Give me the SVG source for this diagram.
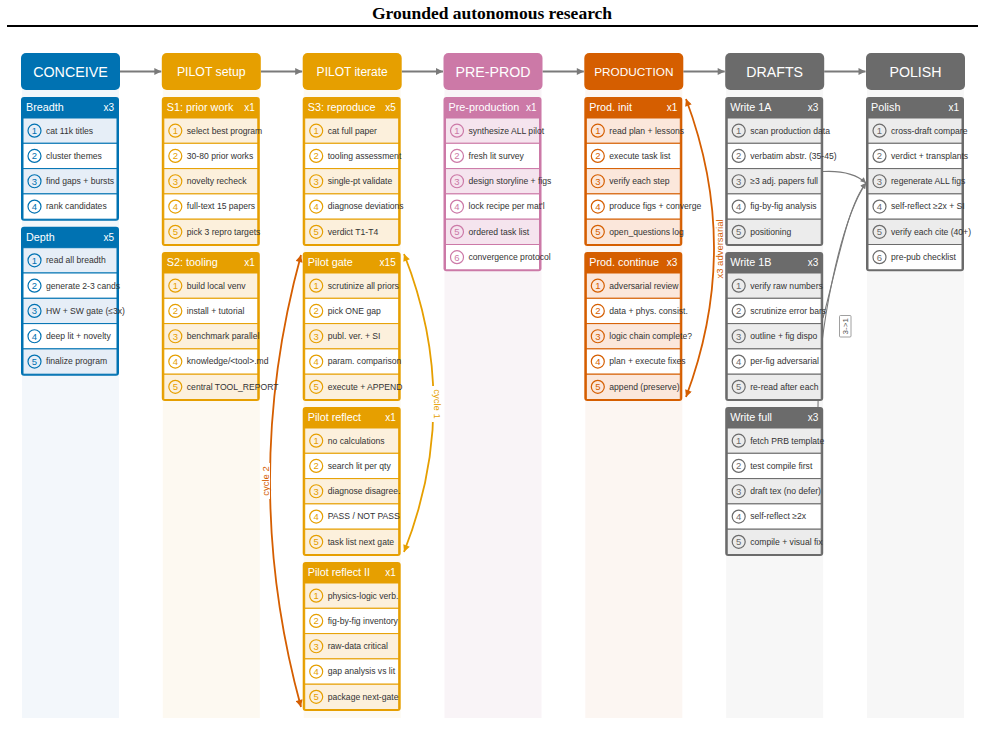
<svg xmlns="http://www.w3.org/2000/svg" width="985" height="743" viewBox="0 0 985 743">
<defs>
<style>
text{font-family:"Liberation Sans",Arial,sans-serif}
.title{font-family:"Liberation Serif","Times New Roman",serif;font-weight:bold;font-size:17.5px;fill:#000;text-anchor:middle}
.hd{fill:#fff;text-anchor:middle}
.ct{fill:#fff;font-size:10.8px}
.cx{fill:#fff;font-size:10px;text-anchor:end}
.t{fill:#333;font-size:8.6px}
.n{font-size:9.5px;text-anchor:middle}
.ro{fill:#fff;stroke-width:1}
circle{fill:none;stroke-width:1.2}
.blue .cb,.hb-blue{fill:#0072b2}.blue .ro{stroke:#0072b2}.blue .odd{fill:#e6eef7}.blue circle{stroke:#0072b2}.blue .n{fill:#0072b2}
.orange .cb,.hb-orange{fill:#e69f00}.orange .ro{stroke:#e69f00}.orange .odd{fill:#fcf0dc}.orange circle{stroke:#e69f00}.orange .n{fill:#e69f00}
.pink .cb,.hb-pink{fill:#cc79a7}.pink .ro{stroke:#cc79a7}.pink .odd{fill:#f5e4ee}.pink circle{stroke:#cc79a7}.pink .n{fill:#cc79a7}
.red .cb,.hb-red{fill:#d55e00}.red .ro{stroke:#d55e00}.red .odd{fill:#fbe7db}.red circle{stroke:#d55e00}.red .n{fill:#d55e00}
.gray .cb,.hb-gray{fill:#6b6b6b}.gray .ro{stroke:#6b6b6b}.gray .odd{fill:#ececec}.gray circle{stroke:#6b6b6b}.gray .n{fill:#6b6b6b}
.harrow{stroke:#7a7a7a;stroke-width:2;fill:none}
.cyc{fill:none;stroke-width:1.8}
.dline{fill:none;stroke:#7a7a7a;stroke-width:1.1}
.lbl{font-size:9.5px;text-anchor:middle}
</style>
<marker id="ag" viewBox="0 0 10 10" refX="10" refY="5" markerWidth="9" markerHeight="7" markerUnits="userSpaceOnUse" orient="auto"><path d="M0,0L10,5L0,10z" fill="#7a7a7a"/></marker>
<marker id="ag2" viewBox="0 0 10 10" refX="10" refY="5" markerWidth="7" markerHeight="5.5" markerUnits="userSpaceOnUse" orient="auto"><path d="M0,0L10,5L0,10z" fill="#7a7a7a"/></marker>
<marker id="ao" viewBox="0 0 10 10" refX="10" refY="5" markerWidth="9" markerHeight="7" markerUnits="userSpaceOnUse" orient="auto-start-reverse"><path d="M0,0L10,5L0,10z" fill="#e69f00"/></marker>
<marker id="ar" viewBox="0 0 10 10" refX="10" refY="5" markerWidth="9" markerHeight="7" markerUnits="userSpaceOnUse" orient="auto-start-reverse"><path d="M0,0L10,5L0,10z" fill="#d55e00"/></marker>
</defs>
<rect width="985" height="743" fill="#fff"/>
<text class="title" x="492" y="19">Grounded autonomous research</text>
<line x1="7" y1="26" x2="978" y2="26" stroke="#000" stroke-width="2"/>

<g id="strips">
<rect x="22" y="88" width="97" height="630" fill="#f3f7fb"/>
<rect x="162.8" y="88" width="97" height="630" fill="#fdf9f1"/>
<rect x="303.7" y="88" width="97" height="630" fill="#fdf9f1"/>
<rect x="444.5" y="88" width="97" height="630" fill="#f9f4f7"/>
<rect x="585.3" y="88" width="97" height="630" fill="#fcf6f2"/>
<rect x="726.2" y="88" width="97" height="630" fill="#f7f7f7"/>
<rect x="867" y="88" width="97" height="630" fill="#f7f7f7"/>
</g>

<g id="connectors">
<path class="harrow" d="M120,71.5H161.3" marker-end="url(#ag)"/>
<path class="harrow" d="M260.8,71.5H302.2" marker-end="url(#ag)"/>
<path class="harrow" d="M401.7,71.5H443" marker-end="url(#ag)"/>
<path class="harrow" d="M542.5,71.5H583.8" marker-end="url(#ag)"/>
<path class="harrow" d="M683.3,71.5H724.7" marker-end="url(#ag)"/>
<path class="harrow" d="M824.2,71.5H865.5" marker-end="url(#ag)"/>
<path class="cyc" stroke="#d55e00" d="M301,255Q239,481 301,707" marker-start="url(#ar)" marker-end="url(#ar)"/>
<path class="cyc" stroke="#e69f00" d="M404,254Q463,403 404,552" marker-start="url(#ao)" marker-end="url(#ao)"/>
<path class="cyc" stroke="#d55e00" d="M686,99Q742,248 686,397" marker-start="url(#ar)" marker-end="url(#ar)"/>
<path class="dline" d="M823,171.5Q852,170 866,183" marker-end="url(#ag2)"/>
<path class="dline" d="M823,318C838,262 848,205 866,183" marker-end="url(#ag2)"/>
<path class="dline" d="M818,407C818,330 840,222 866,183" marker-end="url(#ag2)"/>
<g id="labels">
<rect x="260.5" y="463" width="9.5" height="36" fill="#fff"/>
<text class="lbl" fill="#d55e00" transform="translate(265.5,481) rotate(-90)" y="3.3">cycle 2</text>
<rect x="431.5" y="386" width="11" height="36" fill="#fff"/>
<text class="lbl" fill="#e69f00" transform="translate(437,404) rotate(90)" y="3.3">cycle 1</text>
<rect x="715" y="218" width="9.5" height="62" fill="#fff"/>
<text class="lbl" fill="#d55e00" transform="translate(719.7,249) rotate(-90)" y="3.3">x3 adversarial</text>
<rect x="839.5" y="315.5" width="11.5" height="21.5" fill="#fff" stroke="#888" stroke-width="0.8" rx="1"/>
<text font-size="8" text-anchor="middle" fill="#555" transform="translate(845.3,326.3) rotate(-90)" y="2.8">3-&gt;1</text>
</g>
</g>

<g id="headers">
<g id="h-conceive" transform="translate(21,53)"><rect class="hb-blue" width="99" height="37" rx="5"/><text class="hd" x="49.5" y="76.6" transform="translate(0,-53)" font-size="14.3">CONCEIVE</text></g>
<g id="h-pilot-setup" transform="translate(161.8,53)"><rect class="hb-orange" width="99" height="37" rx="5"/><text class="hd" x="49.5" y="23" font-size="12.3">PILOT setup</text></g>
<g id="h-pilot-iterate" transform="translate(302.7,53)"><rect class="hb-orange" width="99" height="37" rx="5"/><text class="hd" x="49.5" y="23" font-size="12">PILOT iterate</text></g>
<g id="h-preprod" transform="translate(443.5,53)"><rect class="hb-pink" width="99" height="37" rx="5"/><text class="hd" x="49.5" y="23.6" font-size="14.2">PRE-PROD</text></g>
<g id="h-production" transform="translate(584.3,53)"><rect class="hb-red" width="99" height="37" rx="5"/><text class="hd" x="49.5" y="22.8" font-size="11.8">PRODUCTION</text></g>
<g id="h-drafts" transform="translate(725.2,53)"><rect class="hb-gray" width="99" height="37" rx="5"/><text class="hd" x="49.5" y="23.6" font-size="14.2">DRAFTS</text></g>
<g id="h-polish" transform="translate(866,53)"><rect class="hb-gray" width="99" height="37" rx="5"/><text class="hd" x="49.5" y="23.6" font-size="14.2">POLISH</text></g>
</g>

<g id="breadth" class="card blue" transform="translate(21,97)">
<rect class="cb" width="98" height="123.7" rx="3"/>
<text class="ct" x="5" y="14">Breadth</text><text class="cx" x="93" y="14">x3</text>
<g transform="translate(0,21)"><rect class="ro odd" x="2" width="94" height="25.3"/><circle cx="13.5" cy="12.65" r="6.5"/><text class="n" x="13.5" y="16.1">1</text><text class="t" x="25" y="15.6">cat 11k titles</text></g>
<g transform="translate(0,46.3)"><rect class="ro" x="2" width="94" height="25.3"/><circle cx="13.5" cy="12.65" r="6.5"/><text class="n" x="13.5" y="16.1">2</text><text class="t" x="25" y="15.6">cluster themes</text></g>
<g transform="translate(0,71.6)"><rect class="ro odd" x="2" width="94" height="25.3"/><circle cx="13.5" cy="12.65" r="6.5"/><text class="n" x="13.5" y="16.1">3</text><text class="t" x="25" y="15.6">find gaps + bursts</text></g>
<g transform="translate(0,96.9)"><rect class="ro" x="2" width="94" height="25.3"/><circle cx="13.5" cy="12.65" r="6.5"/><text class="n" x="13.5" y="16.1">4</text><text class="t" x="25" y="15.6">rank candidates</text></g>
</g>

<g id="depth" class="card blue" transform="translate(21,226.7)">
<rect class="cb" width="98" height="149" rx="3"/>
<text class="ct" x="5" y="14">Depth</text><text class="cx" x="93" y="14">x5</text>
<g transform="translate(0,21)"><rect class="ro odd" x="2" width="94" height="25.3"/><circle cx="13.5" cy="12.65" r="6.5"/><text class="n" x="13.5" y="16.1">1</text><text class="t" x="25" y="15.6">read all breadth</text></g>
<g transform="translate(0,46.3)"><rect class="ro" x="2" width="94" height="25.3"/><circle cx="13.5" cy="12.65" r="6.5"/><text class="n" x="13.5" y="16.1">2</text><text class="t" x="25" y="15.6">generate 2-3 cands</text></g>
<g transform="translate(0,71.6)"><rect class="ro odd" x="2" width="94" height="25.3"/><circle cx="13.5" cy="12.65" r="6.5"/><text class="n" x="13.5" y="16.1">3</text><text class="t" x="25" y="15.6">HW + SW gate (≤3x)</text></g>
<g transform="translate(0,96.9)"><rect class="ro" x="2" width="94" height="25.3"/><circle cx="13.5" cy="12.65" r="6.5"/><text class="n" x="13.5" y="16.1">4</text><text class="t" x="25" y="15.6">deep lit + novelty</text></g>
<g transform="translate(0,122.2)"><rect class="ro odd" x="2" width="94" height="25.3"/><circle cx="13.5" cy="12.65" r="6.5"/><text class="n" x="13.5" y="16.1">5</text><text class="t" x="25" y="15.6">finalize program</text></g>
</g>

<g id="s1" class="card orange" transform="translate(161.8,97)">
<rect class="cb" width="98" height="149" rx="3"/>
<text class="ct" x="5" y="14">S1: prior work</text><text class="cx" x="93" y="14">x1</text>
<g transform="translate(0,21)"><rect class="ro odd" x="2" width="94" height="25.3"/><circle cx="13.5" cy="12.65" r="6.5"/><text class="n" x="13.5" y="16.1">1</text><text class="t" x="25" y="15.6">select best program</text></g>
<g transform="translate(0,46.3)"><rect class="ro" x="2" width="94" height="25.3"/><circle cx="13.5" cy="12.65" r="6.5"/><text class="n" x="13.5" y="16.1">2</text><text class="t" x="25" y="15.6">30-80 prior works</text></g>
<g transform="translate(0,71.6)"><rect class="ro odd" x="2" width="94" height="25.3"/><circle cx="13.5" cy="12.65" r="6.5"/><text class="n" x="13.5" y="16.1">3</text><text class="t" x="25" y="15.6">novelty recheck</text></g>
<g transform="translate(0,96.9)"><rect class="ro" x="2" width="94" height="25.3"/><circle cx="13.5" cy="12.65" r="6.5"/><text class="n" x="13.5" y="16.1">4</text><text class="t" x="25" y="15.6">full-text 15 papers</text></g>
<g transform="translate(0,122.2)"><rect class="ro odd" x="2" width="94" height="25.3"/><circle cx="13.5" cy="12.65" r="6.5"/><text class="n" x="13.5" y="16.1">5</text><text class="t" x="25" y="15.6">pick 3 repro targets</text></g>
</g>

<g id="s2" class="card orange" transform="translate(161.8,252)">
<rect class="cb" width="98" height="149" rx="3"/>
<text class="ct" x="5" y="14">S2: tooling</text><text class="cx" x="93" y="14">x1</text>
<g transform="translate(0,21)"><rect class="ro odd" x="2" width="94" height="25.3"/><circle cx="13.5" cy="12.65" r="6.5"/><text class="n" x="13.5" y="16.1">1</text><text class="t" x="25" y="15.6">build local venv</text></g>
<g transform="translate(0,46.3)"><rect class="ro" x="2" width="94" height="25.3"/><circle cx="13.5" cy="12.65" r="6.5"/><text class="n" x="13.5" y="16.1">2</text><text class="t" x="25" y="15.6">install + tutorial</text></g>
<g transform="translate(0,71.6)"><rect class="ro odd" x="2" width="94" height="25.3"/><circle cx="13.5" cy="12.65" r="6.5"/><text class="n" x="13.5" y="16.1">3</text><text class="t" x="25" y="15.6">benchmark parallel</text></g>
<g transform="translate(0,96.9)"><rect class="ro" x="2" width="94" height="25.3"/><circle cx="13.5" cy="12.65" r="6.5"/><text class="n" x="13.5" y="16.1">4</text><text class="t" x="25" y="15.6">knowledge/&lt;tool&gt;.md</text></g>
<g transform="translate(0,122.2)"><rect class="ro odd" x="2" width="94" height="25.3"/><circle cx="13.5" cy="12.65" r="6.5"/><text class="n" x="13.5" y="16.1">5</text><text class="t" x="25" y="15.6">central TOOL_REPORT</text></g>
</g>

<g id="s3" class="card orange" transform="translate(302.7,97)">
<rect class="cb" width="98" height="149" rx="3"/>
<text class="ct" x="5" y="14">S3: reproduce</text><text class="cx" x="93" y="14">x5</text>
<g transform="translate(0,21)"><rect class="ro odd" x="2" width="94" height="25.3"/><circle cx="13.5" cy="12.65" r="6.5"/><text class="n" x="13.5" y="16.1">1</text><text class="t" x="25" y="15.6">cat full paper</text></g>
<g transform="translate(0,46.3)"><rect class="ro" x="2" width="94" height="25.3"/><circle cx="13.5" cy="12.65" r="6.5"/><text class="n" x="13.5" y="16.1">2</text><text class="t" x="25" y="15.6">tooling assessment</text></g>
<g transform="translate(0,71.6)"><rect class="ro odd" x="2" width="94" height="25.3"/><circle cx="13.5" cy="12.65" r="6.5"/><text class="n" x="13.5" y="16.1">3</text><text class="t" x="25" y="15.6">single-pt validate</text></g>
<g transform="translate(0,96.9)"><rect class="ro" x="2" width="94" height="25.3"/><circle cx="13.5" cy="12.65" r="6.5"/><text class="n" x="13.5" y="16.1">4</text><text class="t" x="25" y="15.6">diagnose deviations</text></g>
<g transform="translate(0,122.2)"><rect class="ro odd" x="2" width="94" height="25.3"/><circle cx="13.5" cy="12.65" r="6.5"/><text class="n" x="13.5" y="16.1">5</text><text class="t" x="25" y="15.6">verdict T1-T4</text></g>
</g>

<g id="pilot-gate" class="card orange" transform="translate(302.7,252)">
<rect class="cb" width="98" height="149" rx="3"/>
<text class="ct" x="5" y="14">Pilot gate</text><text class="cx" x="93" y="14">x15</text>
<g transform="translate(0,21)"><rect class="ro odd" x="2" width="94" height="25.3"/><circle cx="13.5" cy="12.65" r="6.5"/><text class="n" x="13.5" y="16.1">1</text><text class="t" x="25" y="15.6">scrutinize all priors</text></g>
<g transform="translate(0,46.3)"><rect class="ro" x="2" width="94" height="25.3"/><circle cx="13.5" cy="12.65" r="6.5"/><text class="n" x="13.5" y="16.1">2</text><text class="t" x="25" y="15.6">pick ONE gap</text></g>
<g transform="translate(0,71.6)"><rect class="ro odd" x="2" width="94" height="25.3"/><circle cx="13.5" cy="12.65" r="6.5"/><text class="n" x="13.5" y="16.1">3</text><text class="t" x="25" y="15.6">publ. ver. + SI</text></g>
<g transform="translate(0,96.9)"><rect class="ro" x="2" width="94" height="25.3"/><circle cx="13.5" cy="12.65" r="6.5"/><text class="n" x="13.5" y="16.1">4</text><text class="t" x="25" y="15.6">param. comparison</text></g>
<g transform="translate(0,122.2)"><rect class="ro odd" x="2" width="94" height="25.3"/><circle cx="13.5" cy="12.65" r="6.5"/><text class="n" x="13.5" y="16.1">5</text><text class="t" x="25" y="15.6">execute + APPEND</text></g>
</g>

<g id="pilot-reflect" class="card orange" transform="translate(302.7,407)">
<rect class="cb" width="98" height="149" rx="3"/>
<text class="ct" x="5" y="14">Pilot reflect</text><text class="cx" x="93" y="14">x1</text>
<g transform="translate(0,21)"><rect class="ro odd" x="2" width="94" height="25.3"/><circle cx="13.5" cy="12.65" r="6.5"/><text class="n" x="13.5" y="16.1">1</text><text class="t" x="25" y="15.6">no calculations</text></g>
<g transform="translate(0,46.3)"><rect class="ro" x="2" width="94" height="25.3"/><circle cx="13.5" cy="12.65" r="6.5"/><text class="n" x="13.5" y="16.1">2</text><text class="t" x="25" y="15.6">search lit per qty</text></g>
<g transform="translate(0,71.6)"><rect class="ro odd" x="2" width="94" height="25.3"/><circle cx="13.5" cy="12.65" r="6.5"/><text class="n" x="13.5" y="16.1">3</text><text class="t" x="25" y="15.6">diagnose disagree.</text></g>
<g transform="translate(0,96.9)"><rect class="ro" x="2" width="94" height="25.3"/><circle cx="13.5" cy="12.65" r="6.5"/><text class="n" x="13.5" y="16.1">4</text><text class="t" x="25" y="15.6">PASS / NOT PASS</text></g>
<g transform="translate(0,122.2)"><rect class="ro odd" x="2" width="94" height="25.3"/><circle cx="13.5" cy="12.65" r="6.5"/><text class="n" x="13.5" y="16.1">5</text><text class="t" x="25" y="15.6">task list next gate</text></g>
</g>

<g id="pilot-reflect-2" class="card orange" transform="translate(302.7,562)">
<rect class="cb" width="98" height="149" rx="3"/>
<text class="ct" x="5" y="14">Pilot reflect II</text><text class="cx" x="93" y="14">x1</text>
<g transform="translate(0,21)"><rect class="ro odd" x="2" width="94" height="25.3"/><circle cx="13.5" cy="12.65" r="6.5"/><text class="n" x="13.5" y="16.1">1</text><text class="t" x="25" y="15.6">physics-logic verb.</text></g>
<g transform="translate(0,46.3)"><rect class="ro" x="2" width="94" height="25.3"/><circle cx="13.5" cy="12.65" r="6.5"/><text class="n" x="13.5" y="16.1">2</text><text class="t" x="25" y="15.6">fig-by-fig inventory</text></g>
<g transform="translate(0,71.6)"><rect class="ro odd" x="2" width="94" height="25.3"/><circle cx="13.5" cy="12.65" r="6.5"/><text class="n" x="13.5" y="16.1">3</text><text class="t" x="25" y="15.6">raw-data critical</text></g>
<g transform="translate(0,96.9)"><rect class="ro" x="2" width="94" height="25.3"/><circle cx="13.5" cy="12.65" r="6.5"/><text class="n" x="13.5" y="16.1">4</text><text class="t" x="25" y="15.6">gap analysis vs lit</text></g>
<g transform="translate(0,122.2)"><rect class="ro odd" x="2" width="94" height="25.3"/><circle cx="13.5" cy="12.65" r="6.5"/><text class="n" x="13.5" y="16.1">5</text><text class="t" x="25" y="15.6">package next-gate</text></g>
</g>

<g id="pre-production" class="card pink" transform="translate(443.5,97)">
<rect class="cb" width="98" height="174.3" rx="3"/>
<text class="ct" x="5" y="14">Pre-production</text><text class="cx" x="93" y="14">x1</text>
<g transform="translate(0,21)"><rect class="ro odd" x="2" width="94" height="25.3"/><circle cx="13.5" cy="12.65" r="6.5"/><text class="n" x="13.5" y="16.1">1</text><text class="t" x="25" y="15.6">synthesize ALL pilot</text></g>
<g transform="translate(0,46.3)"><rect class="ro" x="2" width="94" height="25.3"/><circle cx="13.5" cy="12.65" r="6.5"/><text class="n" x="13.5" y="16.1">2</text><text class="t" x="25" y="15.6">fresh lit survey</text></g>
<g transform="translate(0,71.6)"><rect class="ro odd" x="2" width="94" height="25.3"/><circle cx="13.5" cy="12.65" r="6.5"/><text class="n" x="13.5" y="16.1">3</text><text class="t" x="25" y="15.6">design storyline + figs</text></g>
<g transform="translate(0,96.9)"><rect class="ro" x="2" width="94" height="25.3"/><circle cx="13.5" cy="12.65" r="6.5"/><text class="n" x="13.5" y="16.1">4</text><text class="t" x="25" y="15.6">lock recipe per mat'l</text></g>
<g transform="translate(0,122.2)"><rect class="ro odd" x="2" width="94" height="25.3"/><circle cx="13.5" cy="12.65" r="6.5"/><text class="n" x="13.5" y="16.1">5</text><text class="t" x="25" y="15.6">ordered task list</text></g>
<g transform="translate(0,147.5)"><rect class="ro" x="2" width="94" height="25.3"/><circle cx="13.5" cy="12.65" r="6.5"/><text class="n" x="13.5" y="16.1">6</text><text class="t" x="25" y="15.6">convergence protocol</text></g>
</g>

<g id="prod-init" class="card red" transform="translate(584.3,97)">
<rect class="cb" width="98" height="149" rx="3"/>
<text class="ct" x="5" y="14">Prod. init</text><text class="cx" x="93" y="14">x1</text>
<g transform="translate(0,21)"><rect class="ro odd" x="2" width="94" height="25.3"/><circle cx="13.5" cy="12.65" r="6.5"/><text class="n" x="13.5" y="16.1">1</text><text class="t" x="25" y="15.6">read plan + lessons</text></g>
<g transform="translate(0,46.3)"><rect class="ro" x="2" width="94" height="25.3"/><circle cx="13.5" cy="12.65" r="6.5"/><text class="n" x="13.5" y="16.1">2</text><text class="t" x="25" y="15.6">execute task list</text></g>
<g transform="translate(0,71.6)"><rect class="ro odd" x="2" width="94" height="25.3"/><circle cx="13.5" cy="12.65" r="6.5"/><text class="n" x="13.5" y="16.1">3</text><text class="t" x="25" y="15.6">verify each step</text></g>
<g transform="translate(0,96.9)"><rect class="ro" x="2" width="94" height="25.3"/><circle cx="13.5" cy="12.65" r="6.5"/><text class="n" x="13.5" y="16.1">4</text><text class="t" x="25" y="15.6">produce figs + converge</text></g>
<g transform="translate(0,122.2)"><rect class="ro odd" x="2" width="94" height="25.3"/><circle cx="13.5" cy="12.65" r="6.5"/><text class="n" x="13.5" y="16.1">5</text><text class="t" x="25" y="15.6">open_questions log</text></g>
</g>

<g id="prod-continue" class="card red" transform="translate(584.3,252)">
<rect class="cb" width="98" height="149" rx="3"/>
<text class="ct" x="5" y="14">Prod. continue</text><text class="cx" x="93" y="14">x3</text>
<g transform="translate(0,21)"><rect class="ro odd" x="2" width="94" height="25.3"/><circle cx="13.5" cy="12.65" r="6.5"/><text class="n" x="13.5" y="16.1">1</text><text class="t" x="25" y="15.6">adversarial review</text></g>
<g transform="translate(0,46.3)"><rect class="ro" x="2" width="94" height="25.3"/><circle cx="13.5" cy="12.65" r="6.5"/><text class="n" x="13.5" y="16.1">2</text><text class="t" x="25" y="15.6">data + phys. consist.</text></g>
<g transform="translate(0,71.6)"><rect class="ro odd" x="2" width="94" height="25.3"/><circle cx="13.5" cy="12.65" r="6.5"/><text class="n" x="13.5" y="16.1">3</text><text class="t" x="25" y="15.6">logic chain complete?</text></g>
<g transform="translate(0,96.9)"><rect class="ro" x="2" width="94" height="25.3"/><circle cx="13.5" cy="12.65" r="6.5"/><text class="n" x="13.5" y="16.1">4</text><text class="t" x="25" y="15.6">plan + execute fixes</text></g>
<g transform="translate(0,122.2)"><rect class="ro odd" x="2" width="94" height="25.3"/><circle cx="13.5" cy="12.65" r="6.5"/><text class="n" x="13.5" y="16.1">5</text><text class="t" x="25" y="15.6">append (preserve)</text></g>
</g>

<g id="write-1a" class="card gray" transform="translate(725.2,97)">
<rect class="cb" width="98" height="149" rx="3"/>
<text class="ct" x="5" y="14">Write 1A</text><text class="cx" x="93" y="14">x3</text>
<g transform="translate(0,21)"><rect class="ro odd" x="2" width="94" height="25.3"/><circle cx="13.5" cy="12.65" r="6.5"/><text class="n" x="13.5" y="16.1">1</text><text class="t" x="25" y="15.6">scan production data</text></g>
<g transform="translate(0,46.3)"><rect class="ro" x="2" width="94" height="25.3"/><circle cx="13.5" cy="12.65" r="6.5"/><text class="n" x="13.5" y="16.1">2</text><text class="t" x="25" y="15.6">verbatim abstr. (35-45)</text></g>
<g transform="translate(0,71.6)"><rect class="ro odd" x="2" width="94" height="25.3"/><circle cx="13.5" cy="12.65" r="6.5"/><text class="n" x="13.5" y="16.1">3</text><text class="t" x="25" y="15.6">≥3 adj. papers full</text></g>
<g transform="translate(0,96.9)"><rect class="ro" x="2" width="94" height="25.3"/><circle cx="13.5" cy="12.65" r="6.5"/><text class="n" x="13.5" y="16.1">4</text><text class="t" x="25" y="15.6">fig-by-fig analysis</text></g>
<g transform="translate(0,122.2)"><rect class="ro odd" x="2" width="94" height="25.3"/><circle cx="13.5" cy="12.65" r="6.5"/><text class="n" x="13.5" y="16.1">5</text><text class="t" x="25" y="15.6">positioning</text></g>
</g>

<g id="write-1b" class="card gray" transform="translate(725.2,252)">
<rect class="cb" width="98" height="149" rx="3"/>
<text class="ct" x="5" y="14">Write 1B</text><text class="cx" x="93" y="14">x3</text>
<g transform="translate(0,21)"><rect class="ro odd" x="2" width="94" height="25.3"/><circle cx="13.5" cy="12.65" r="6.5"/><text class="n" x="13.5" y="16.1">1</text><text class="t" x="25" y="15.6">verify raw numbers</text></g>
<g transform="translate(0,46.3)"><rect class="ro" x="2" width="94" height="25.3"/><circle cx="13.5" cy="12.65" r="6.5"/><text class="n" x="13.5" y="16.1">2</text><text class="t" x="25" y="15.6">scrutinize error bars</text></g>
<g transform="translate(0,71.6)"><rect class="ro odd" x="2" width="94" height="25.3"/><circle cx="13.5" cy="12.65" r="6.5"/><text class="n" x="13.5" y="16.1">3</text><text class="t" x="25" y="15.6">outline + fig dispo</text></g>
<g transform="translate(0,96.9)"><rect class="ro" x="2" width="94" height="25.3"/><circle cx="13.5" cy="12.65" r="6.5"/><text class="n" x="13.5" y="16.1">4</text><text class="t" x="25" y="15.6">per-fig adversarial</text></g>
<g transform="translate(0,122.2)"><rect class="ro odd" x="2" width="94" height="25.3"/><circle cx="13.5" cy="12.65" r="6.5"/><text class="n" x="13.5" y="16.1">5</text><text class="t" x="25" y="15.6">re-read after each</text></g>
</g>

<g id="write-full" class="card gray" transform="translate(725.2,407)">
<rect class="cb" width="98" height="149" rx="3"/>
<text class="ct" x="5" y="14">Write full</text><text class="cx" x="93" y="14">x3</text>
<g transform="translate(0,21)"><rect class="ro odd" x="2" width="94" height="25.3"/><circle cx="13.5" cy="12.65" r="6.5"/><text class="n" x="13.5" y="16.1">1</text><text class="t" x="25" y="15.6">fetch PRB template</text></g>
<g transform="translate(0,46.3)"><rect class="ro" x="2" width="94" height="25.3"/><circle cx="13.5" cy="12.65" r="6.5"/><text class="n" x="13.5" y="16.1">2</text><text class="t" x="25" y="15.6">test compile first</text></g>
<g transform="translate(0,71.6)"><rect class="ro odd" x="2" width="94" height="25.3"/><circle cx="13.5" cy="12.65" r="6.5"/><text class="n" x="13.5" y="16.1">3</text><text class="t" x="25" y="15.6">draft tex (no defer)</text></g>
<g transform="translate(0,96.9)"><rect class="ro" x="2" width="94" height="25.3"/><circle cx="13.5" cy="12.65" r="6.5"/><text class="n" x="13.5" y="16.1">4</text><text class="t" x="25" y="15.6">self-reflect ≥2x</text></g>
<g transform="translate(0,122.2)"><rect class="ro odd" x="2" width="94" height="25.3"/><circle cx="13.5" cy="12.65" r="6.5"/><text class="n" x="13.5" y="16.1">5</text><text class="t" x="25" y="15.6">compile + visual fix</text></g>
</g>

<g id="polish" class="card gray" transform="translate(866,97)">
<rect class="cb" width="98" height="174.3" rx="3"/>
<text class="ct" x="5" y="14">Polish</text><text class="cx" x="93" y="14">x1</text>
<g transform="translate(0,21)"><rect class="ro odd" x="2" width="94" height="25.3"/><circle cx="13.5" cy="12.65" r="6.5"/><text class="n" x="13.5" y="16.1">1</text><text class="t" x="25" y="15.6">cross-draft compare</text></g>
<g transform="translate(0,46.3)"><rect class="ro" x="2" width="94" height="25.3"/><circle cx="13.5" cy="12.65" r="6.5"/><text class="n" x="13.5" y="16.1">2</text><text class="t" x="25" y="15.6">verdict + transplants</text></g>
<g transform="translate(0,71.6)"><rect class="ro odd" x="2" width="94" height="25.3"/><circle cx="13.5" cy="12.65" r="6.5"/><text class="n" x="13.5" y="16.1">3</text><text class="t" x="25" y="15.6">regenerate ALL figs</text></g>
<g transform="translate(0,96.9)"><rect class="ro" x="2" width="94" height="25.3"/><circle cx="13.5" cy="12.65" r="6.5"/><text class="n" x="13.5" y="16.1">4</text><text class="t" x="25" y="15.6">self-reflect ≥2x + SI</text></g>
<g transform="translate(0,122.2)"><rect class="ro odd" x="2" width="94" height="25.3"/><circle cx="13.5" cy="12.65" r="6.5"/><text class="n" x="13.5" y="16.1">5</text><text class="t" x="25" y="15.6">verify each cite (40+)</text></g>
<g transform="translate(0,147.5)"><rect class="ro" x="2" width="94" height="25.3"/><circle cx="13.5" cy="12.65" r="6.5"/><text class="n" x="13.5" y="16.1">6</text><text class="t" x="25" y="15.6">pre-pub checklist</text></g>
</g>
</svg>
